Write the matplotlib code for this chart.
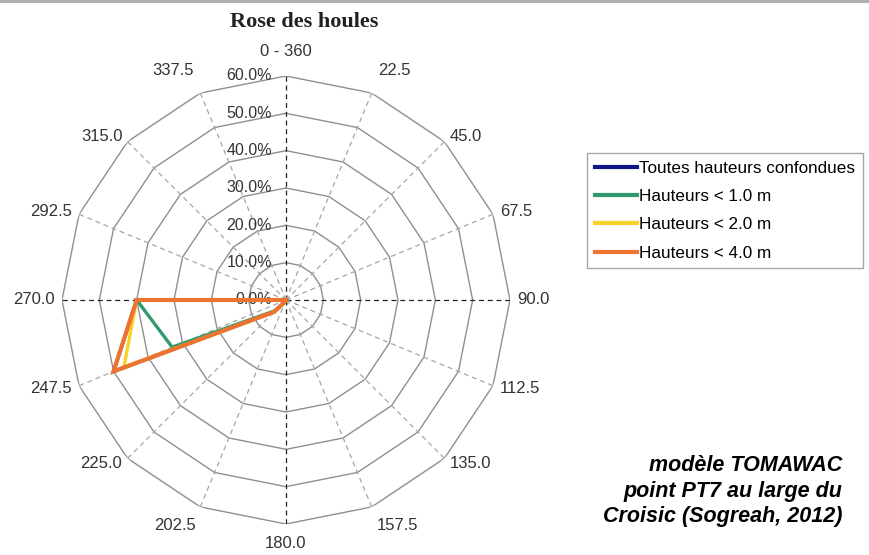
import numpy as np
import matplotlib
matplotlib.use("Agg")
import matplotlib.pyplot as plt
import matplotlib.transforms as mtransforms
from matplotlib.patches import Rectangle

# Directions (degrees) and labels
directions = np.arange(0, 360, 22.5)
dir_labels = ["0 - 360", "22.5", "45.0", "67.5", "90.0", "112.5", "135.0", "157.5",
              "180.0", "202.5", "225.0", "247.5", "270.0", "292.5", "315.0", "337.5"]

# Frequencies (%) per direction
toutes = [0, 0, 0, 0, 0, 0, 0, 0, 0, 0.3, 4.5, 50, 40, 0, 0, 0]
h_1m = [0, 0, 0, 0, 0, 0, 0, 0, 0, 0.3, 4.0, 33, 40, 0, 0, 0]
h_2m = [0, 0, 0, 0, 0, 0, 0, 0, 0, 0.3, 4.5, 47, 40, 0, 0, 0]
h_4m = [0, 0, 0, 0, 0, 0, 0, 0, 0, 0.3, 4.5, 50, 40, 0, 0, 0]

rings = [10, 20, 30, 40, 50, 60]
ring_labels = ["0.0%", "10.0%", "20.0%", "30.0%", "40.0%", "50.0%", "60.0%"]

series = [
    ("Toutes hauteurs confondues", toutes, "#14148a", 2.4),
    ("Hauteurs < 1.0 m", h_1m, "#2f9a6c", 2.4),
    ("Hauteurs < 2.0 m", h_2m, "#f6d22a", 2.4),
    ("Hauteurs < 4.0 m", h_4m, "#ec7430", 3.0),
]

plt.rcParams['font.family'] = ['Liberation Sans', 'DejaVu Sans']
text_col = "#333333"

fig = plt.figure(figsize=(8.69, 5.55), dpi=100)
ax = fig.add_axes([62 / 869, 31 / 555, 448 / 869, 448 / 555], projection='polar')
ax.set_theta_zero_location('N')
ax.set_theta_direction(-1)
ax.set_ylim(0, 60)
ax.grid(False)
ax.set_xticks([])
ax.set_yticks([])
ax.spines['polar'].set_visible(False)

theta = np.deg2rad(directions)
theta_c = np.append(theta, theta[0])

# polygon rings
for r in rings:
    ax.plot(theta_c, [r] * len(theta_c), color="#8f8f8f", lw=1.0, zorder=1)

# spokes
for d, t in zip(directions, theta):
    if d % 90 == 0:
        ax.plot([t, t], [0, 60], color="#222222", lw=0.9, ls=(0, (4, 3)), zorder=1)
    else:
        ax.plot([t, t], [0, 60], color="#a5a5a5", lw=0.9, ls=(0, (4, 3)), zorder=1)

# direction labels
for d, t, lab in zip(directions, theta, dir_labels):
    s, c = np.sin(t), np.cos(t)
    ha = 'left' if s > 0.1 else ('right' if s < -0.1 else 'center')
    va = 'bottom' if c > 0.9 else ('top' if c < -0.9 else 'center')
    if c > 0.9:
        r_lab = 64.5
    elif c < -0.9:
        r_lab = 63.3
    else:
        r_lab = 62
    ax.text(t, r_lab, lab, ha=ha, va=va, fontsize=12, color=text_col, zorder=2)

# radial labels
off = mtransforms.offset_copy(ax.transData, fig=fig, x=-14, y=0, units='dots')
for r, lab in zip([0] + rings, ring_labels):
    ax.text(0, r, lab, transform=off, ha='right', va='center', fontsize=11.5,
            color=text_col, zorder=2)

# data
handles = []
for name, vals, col, lw in series:
    v = np.append(vals, vals[0])
    h, = ax.plot(theta_c, v, color=col, lw=lw, label=name, zorder=3,
                 solid_joinstyle='miter')
    handles.append(h)

leg = fig.legend(handles=handles, loc='upper left',
                 bbox_to_anchor=(587 / 869, 1 - 153 / 555), fontsize=12.3,
                 frameon=True, fancybox=False, edgecolor="#909090",
                 handlelength=2.5, handletextpad=0.1, labelspacing=0.78,
                 borderpad=0.45, borderaxespad=0)
leg.get_frame().set_linewidth(1.0)
for line in leg.get_lines():
    line.set_linewidth(3)

fig.text(304 / 869, 1 - 22 / 555, "Rose des houles", ha='center', va='center',
         fontsize=16, fontweight='bold', family='Liberation Serif', color="#222222")

fig.text(842 / 869, 1 - 491 / 555,
         "modèle TOMAWAC\npoint PT7 au large du\nCroisic (Sogreah, 2012)",
         ha='right', va='center', fontsize=15.5, fontweight='bold',
         fontstyle='italic', linespacing=1.28, color="black")

# grey strip at top of the picture
fig.add_artist(Rectangle((0, 1 - 3 / 555), 1, 3 / 555, transform=fig.transFigure,
                         facecolor="#b0b0b0", edgecolor='none'))

fig.savefig("out.png", dpi=100)
